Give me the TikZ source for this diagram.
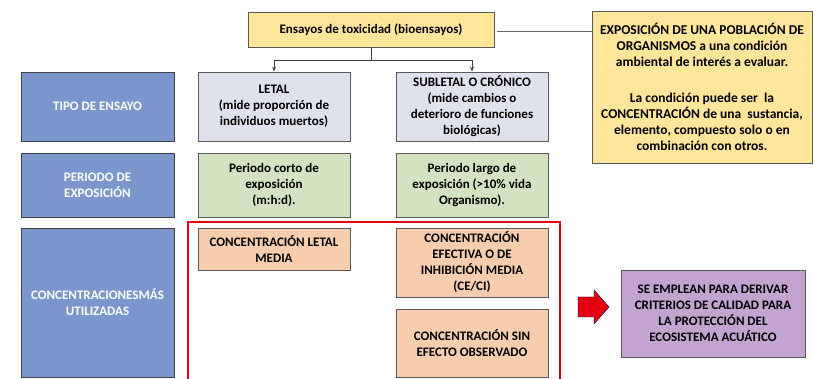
\documentclass[tikz,border=0pt]{standalone}
\usepackage{fontspec}
\setmainfont{Carlito}
\usetikzlibrary{positioning,arrows.meta}

\definecolor{azul}{HTML}{7B96CC}
\definecolor{gris}{HTML}{DFE2EC}
\definecolor{verde}{HTML}{D3E2C0}
\definecolor{naranja}{HTML}{F8CDAE}
\definecolor{amarillo}{HTML}{FFE69B}
\definecolor{lila}{HTML}{C3A3D0}
\definecolor{rojo}{HTML}{E3000F}

\tikzset{
  caja/.style={draw=black!65, line width=0.8pt, align=center, inner sep=2pt,
    font=\bfseries\fontsize{13}{16}\selectfont},
  cabecera/.style={caja, fill=azul, text=white, draw=black!75, minimum width=153pt},
  celda/.style={caja, minimum width=152pt},
  linea/.style={draw=black!75, line width=0.7pt}
}

\begin{document}
\begin{tikzpicture}[x=1pt,y=1pt]
  \useasboundingbox (0,0) rectangle (813,379);

  % cabeceras de fila
  \node[cabecera, minimum height=69pt] (tipo) at (97.5,272.5) {TIPO DE ENSAYO};
  \node[cabecera, minimum height=64pt] (periodo) at (97.5,194) {PERIODO DE\\EXPOSICIÓN};
  \node[cabecera, minimum height=149pt] (conc) at (97.5,76.5) {CONCENTRACIONESMÁS\\UTILIZADAS};

  \node[caja, fill=amarillo, minimum width=246pt, minimum height=35pt] (ensayos) at (371,349.5)
    {Ensayos de toxicidad (bioensayos)};
  \node[caja, fill=amarillo, minimum width=220pt, minimum height=152pt,
        font=\bfseries\fontsize{13.5}{16}\selectfont] (exposicion) at (702,292)
    {EXPOSICIÓN DE UNA POBLACIÓN DE\\ORGANISMOS a una condición\\ambiental de interés a evaluar.\\[20pt]
     La condición puede ser\ \ la\\CONCENTRACIÓN de una\ \ sustancia,\\elemento, compuesto solo o en\\combinación con otros.};

  \node[celda, fill=gris, minimum height=69pt] (letal) at (274,272.5)
    {LETAL\\(mide proporción de\\individuos muertos)};
  \node[celda, fill=gris, minimum height=69pt] (subletal) at (472,272.5)
    {SUBLETAL O CRÓNICO\\(mide cambios o\\deterioro de funciones\\biológicas)};

  \node[celda, fill=verde, minimum height=64pt] (corto) at (274,194)
    {Periodo corto de\\exposición\\(m:h:d).};
  \node[celda, fill=verde, minimum height=64pt] (largo) at (472,194)
    {Periodo largo de\\exposición (>10\% vida\\Organismo).};

  \node[celda, fill=naranja, minimum height=42pt] (cl) at (274,130)
    {CONCENTRACIÓN LETAL\\MEDIA};
  \node[celda, fill=naranja, minimum height=69pt] (ce) at (472,116.5)
    {CONCENTRACIÓN\\EFECTIVA O DE\\INHIBICIÓN MEDIA\\(CE/CI)};
  \node[celda, fill=naranja, minimum height=68pt] (noec) at (472,36)
    {CONCENTRACIÓN SIN\\EFECTO OBSERVADO};

  \node[caja, fill=lila, minimum width=184pt, minimum height=87pt] (criterios) at (713,65.5)
    {SE EMPLEAN PARA DERIVAR\\CRITERIOS DE CALIDAD PARA\\LA PROTECCIÓN DEL\\ECOSISTEMA ACUÁTICO};

  % conectores
  \draw[linea] (ensayos.south) -- ++(0,-13) coordinate (rama);
  \draw[linea, -{Stealth[length=5pt,width=4pt]}] (rama) -| (letal.north);
  \draw[linea, -{Stealth[length=5pt,width=4pt]}] (rama) -| (subletal.north);
  \draw[linea, black!60] ([xshift=3pt,yshift=-1.5pt]ensayos.east) -- ([yshift=-1.5pt]ensayos.east -| exposicion.west);

  % marco rojo y flecha
  \draw[rojo, line width=1.5pt] (188,-2) |- (560,157) -- (560,-2);
  \fill[rojo, draw=blue!40!black, line width=0.4pt]
    (578,82) -- (594,82) -- (594,89) -- (609,72) -- (594,55) -- (594,62) -- (578,62) -- cycle;
\end{tikzpicture}
\end{document}
